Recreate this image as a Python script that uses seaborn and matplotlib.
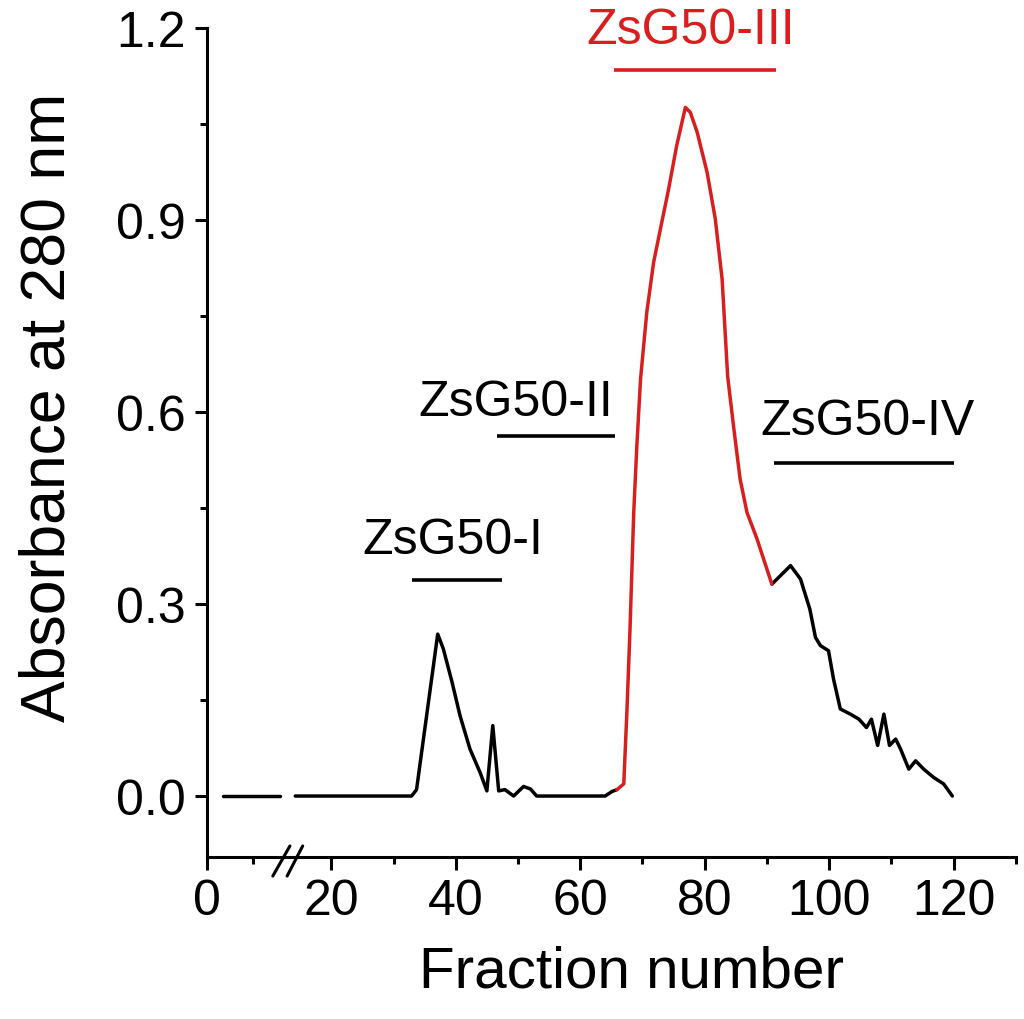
import numpy as np
import pandas as pd
import matplotlib
matplotlib.use("Agg")
import matplotlib.pyplot as plt
import seaborn as sns

# ---- data ----
pre_x = [2.6, 11.7]
pre_y = [0.0, 0.0]

black1_x = [14.2, 32.9, 33.7, 37.1, 38.0, 39.4, 40.7, 42.3, 43.9, 45.0, 45.95, 46.9,
            47.9, 49.3, 50.9, 52.0, 53.0, 64.0, 65.1, 65.9]
black1_y = [0.0, 0.0, 0.01, 0.253, 0.23, 0.178, 0.125, 0.073, 0.037, 0.008, 0.11, 0.008,
            0.01, 0.0, 0.015, 0.011, 0.0, 0.0, 0.007, 0.01]

red_x = [65.9, 67.0, 67.5, 68.0, 68.6, 69.1, 69.7, 70.7, 71.8, 73.1, 74.2, 75.5, 76.9,
         77.7, 78.8, 80.4, 81.7, 82.8, 83.7, 84.7, 85.7, 86.8, 88.4, 90.8]
red_y = [0.01, 0.019, 0.131, 0.26, 0.443, 0.547, 0.652, 0.756, 0.834, 0.896, 0.948, 1.016,
         1.076, 1.068, 1.037, 0.974, 0.902, 0.808, 0.655, 0.573, 0.495, 0.443, 0.402, 0.331]

black2_x = [90.8, 93.8, 95.4, 96.9, 97.8, 98.6, 99.9, 100.7, 101.8, 103.4, 104.8, 106.0,
            106.8, 107.8, 108.8, 109.7, 110.7, 111.5, 112.8, 113.9, 115.2, 116.8, 118.4, 119.8]
black2_y = [0.331, 0.36, 0.339, 0.292, 0.248, 0.235, 0.227, 0.183, 0.136, 0.128, 0.12, 0.107,
            0.12, 0.079, 0.128, 0.079, 0.089, 0.073, 0.042, 0.055, 0.042, 0.029, 0.019, 0.0]

regions = ["ZsG50-I", "ZsG50-II", "ZsG50-III", "ZsG50-IV"]
region_start = [32.9, 46.6, 65.4, 91.1]
region_end = [47.4, 65.6, 91.4, 120.0]
region_level = [0.3375, 0.563, 1.135, 0.520]

x_ticks = [0, 20, 40, 60, 80, 100, 120]
y_ticks = [0.0, 0.3, 0.6, 0.9, 1.2]
y_tick_labels = ["0.0", "0.3", "0.6", "0.9", "1.2"]

# ---- layout / style ----
label_pos_x = [39.6, 49.7, 77.8, 106.2]
label_pos_y = [0.380, 0.595, 1.176, 0.565]
RED = "#d81e1e"
LW = 2.5

sns.set_style("ticks")
plt.rcParams["font.family"] = ["Liberation Sans", "DejaVu Sans"]
plt.rcParams.update({"text.color": "black", "axes.labelcolor": "black",
                     "xtick.color": "black", "ytick.color": "black",
                     "axes.edgecolor": "black"})

fig = plt.figure(figsize=(10.24, 10.20), dpi=100)
ax = fig.add_axes([0.202, 0.1588, 0.790, 0.8128])

def seg(xs, ys, color):
    df = pd.DataFrame({"x": xs, "y": ys})
    sns.lineplot(data=df, x="x", y="y", ax=ax, color=color, lw=LW,
                 sort=False, estimator=None)

seg(pre_x, pre_y, "black")
seg(black1_x, black1_y, "black")
seg(black2_x, black2_y, "black")
seg(red_x, red_y, RED)

for name, s, e, lv, tx, ty in zip(regions, region_start, region_end, region_level,
                                   label_pos_x, label_pos_y):
    c = RED if name == "ZsG50-III" else "black"
    ax.plot([s, e], [lv, lv], color=c, lw=2.6, solid_capstyle="butt")
    ax.text(tx, ty, name, color=c, fontsize=36, ha="center", va="baseline")

ax.set_xlim(0, 130)
ax.set_ylim(-0.0953, 1.2)
ax.set_xticks(x_ticks)
ax.set_xticks([7.35, 30, 50, 70, 90, 110, 130], minor=True)
ax.set_yticks(y_ticks)
ax.set_yticklabels(y_tick_labels)
ax.set_yticks([0.15, 0.45, 0.75, 1.05], minor=True)

for sp in ["top", "right"]:
    ax.spines[sp].set_visible(False)
for sp in ["left", "bottom"]:
    ax.spines[sp].set_linewidth(2.2)

ax.tick_params(which="major", direction="out", length=9, width=2.2,
               labelsize=36, pad=6)
ax.tick_params(which="minor", direction="out", length=5, width=2.2)

# axis break marks
for x0, x1 in [(10.6, 13.35), (12.9, 15.4)]:
    ax.plot([x0, x1], [-0.125, -0.078], color="black", lw=2.2, clip_on=False)

ax.set_xlabel("Fraction number", fontsize=42)
ax.set_ylabel("Absorbance at 280 nm", fontsize=45)
ax.xaxis.set_label_coords(0.525, -0.105)
ax.yaxis.set_label_coords(-0.160, 0.543)

fig.savefig("out.png", dpi=100)
